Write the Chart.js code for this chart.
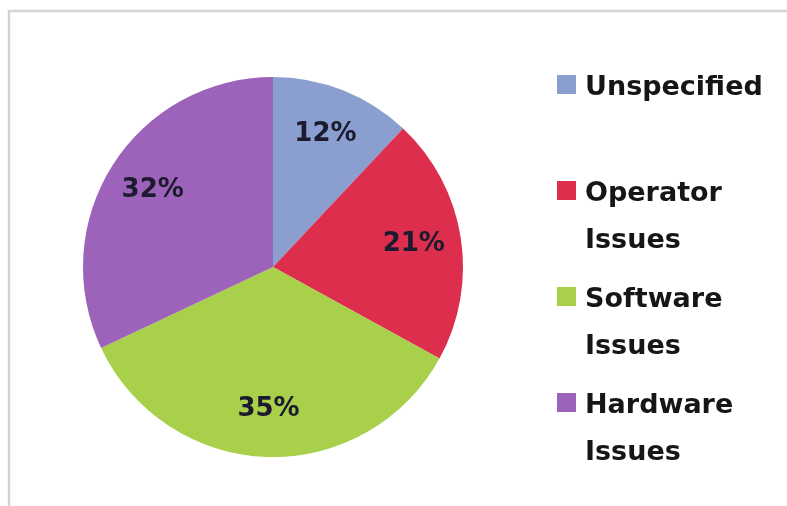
<!DOCTYPE html>
<html>
<head>
<meta charset="utf-8">
<script src="https://cdn.jsdelivr.net/npm/chart.js@4.4.0/dist/chart.umd.min.js"></script>
<style>
    html, body { margin: 0; padding: 0; background: #fff; }
    #wrap { width: 787px; height: 506px; position: relative; }
</style>
</head>
<body>
<div id="wrap"><canvas id="pieChart" width="787" height="506"></canvas></div>
<script>
const categories = ['Unspecified', 'Operator Issues', 'Software Issues', 'Hardware Issues'];
const shares = [12, 21, 35, 32];
const sliceColors = ['#8a9fd0', '#dd2f4d', '#a8d04a', '#9d62b9'];

// moldura cinza (só topo e esquerda aparecem no recorte)
const framePlugin = {
    id: 'frame',
    beforeDraw(chart) {
        const ctx = chart.ctx;
        ctx.save();
        ctx.strokeStyle = '#d3d3d3';
        ctx.lineWidth = 2.5;
        ctx.beginPath();
        ctx.moveTo(9, 506);
        ctx.lineTo(9, 11);
        ctx.lineTo(787, 11);
        ctx.stroke();
        ctx.restore();
    }
};

// rótulos de porcentagem dentro das fatias
const sliceLabels = {
    id: 'sliceLabels',
    afterDatasetsDraw(chart) {
        const ctx = chart.ctx;
        const meta = chart.getDatasetMeta(0);
        ctx.save();
        ctx.font = 'bold 26px "DejaVu Sans"';
        ctx.fillStyle = '#1c1a2e';
        ctx.textAlign = 'center';
        ctx.textBaseline = 'middle';
        meta.data.forEach((arc, i) => {
            const p = arc.getProps(['x', 'y', 'startAngle', 'endAngle', 'outerRadius'], true);
            const mid = (p.startAngle + p.endAngle) / 2;
            const r = p.outerRadius * 0.75;
            ctx.fillText(shares[i] + '%', p.x + Math.cos(mid) * r, p.y + Math.sin(mid) * r);
        });
        ctx.restore();
    }
};

// legenda à direita, com quebra de linha
const sideLegend = {
    id: 'sideLegend',
    afterDraw(chart) {
        const ctx = chart.ctx;
        const textX = 585, boxX = 557, boxSize = 19;
        const maxW = 195, lineH = 47, step = 106;
        ctx.save();
        ctx.font = 'bold 27px "DejaVu Sans"';
        ctx.textBaseline = 'alphabetic';
        ctx.textAlign = 'left';
        categories.forEach((label, i) => {
            const words = label.split(' ');
            const lines = [];
            let cur = '';
            words.forEach(w => {
                const test = cur ? cur + ' ' + w : w;
                if (cur && ctx.measureText(test).width > maxW) {
                    lines.push(cur);
                    cur = w;
                } else {
                    cur = test;
                }
            });
            lines.push(cur);
            const base = 95 + i * step;
            ctx.fillStyle = sliceColors[i];
            ctx.fillRect(boxX, base - 20, boxSize, boxSize);
            ctx.fillStyle = '#161616';
            lines.forEach((ln, j) => ctx.fillText(ln, textX, base + j * lineH));
        });
        ctx.restore();
    }
};

new Chart(document.getElementById('pieChart'), {
    type: 'pie',
    data: {
        labels: categories,
        datasets: [{
            data: shares,
            backgroundColor: sliceColors,
            borderWidth: 0
        }]
    },
    options: {
        responsive: false,
        animation: false,
        layout: {
            padding: { left: 83, right: 324, top: 77, bottom: 49 }
        },
        plugins: {
            legend: { display: false },
            tooltip: { enabled: false }
        }
    },
    plugins: [framePlugin, sliceLabels, sideLegend]
});
</script>
</body>
</html>
